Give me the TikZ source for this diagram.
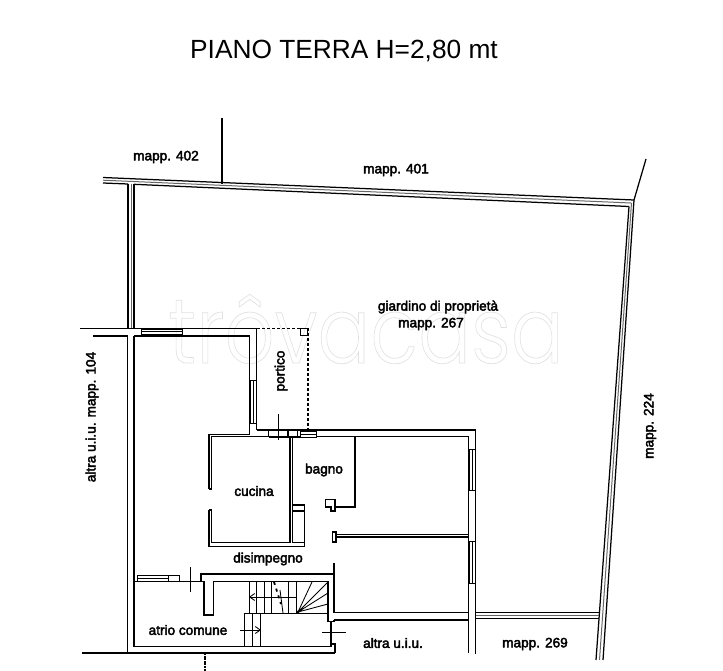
\documentclass[tikz,border=0pt]{standalone}
\usepackage{fontspec}
\setmainfont{Liberation Sans}
\newfontfamily\wmfont{Poppins Light}
\usetikzlibrary{arrows.meta}
\tikzset{
 wall/.style={line width=1.25pt,black,line cap=butt},
 thick wall/.style={line width=2pt,black},
 thin/.style={line width=0.85pt,black},
 gray wall/.style={line width=1pt,black!60},
 dash wall/.style={line width=1.1pt,black,dash pattern=on 3pt off 2pt},
 lab/.style={font=\fontsize{13.6}{15}\selectfont,inner sep=0pt,text=black,
   execute at begin node={\special{pdf:literal direct 2 Tr 0.4 w 0 0 0 RG}},
   execute at end node={\special{pdf:literal direct 0 Tr}}},
}
\begin{document}
\begin{tikzpicture}[x=1pt,y=-1pt]
\useasboundingbox (0,0) rectangle (723,671);
% watermark
\node (wm) at (366,329) [inner sep=0pt] {\special{pdf:literal direct 1 Tr 0.7 w 0.88 0.88 0.88 RG}\scalebox{0.85}[1]{\wmfont\fontsize{92}{92}\selectfont tr\^ovacasa}\special{pdf:literal direct 0 Tr}};
% title
\node (title) at (344,51) [inner sep=0pt] {\fontsize{26.3}{28}\selectfont PIANO TERRA H=2,80 mt};
% labels
\node[lab] (m402) at (166,157) {mapp. 402};
\node[lab] (m401) at (396,170) {mapp. 401};
\node[lab] (giard) at (438,307) {giardino di propriet\`a};
\node[lab] (m267) at (431,324) {mapp. 267};
\node[lab,rotate=90] (portico) at (281,371) {portico};
\node[lab,rotate=90] (altra104) at (92,417) {altra u.i.u. mapp. 104};
\node[lab,rotate=90] (m224) at (650,426) {mapp. 224};
\node[lab] (bagno) at (324,470) {bagno};
\node[lab] (cucina) at (254,491) {cucina};
\node[lab] (disimp) at (268,559) {disimpegno};
\node[lab] (atrio) at (188,630) {atrio comune};
\node[lab] (altrauiu) at (393,643) {altra u.i.u.};
\node[lab] (m269) at (535,644) {mapp. 269};
% boundary
\draw[wall] (103,177.5) -- (634,200);
\draw[wall] (103,183) -- (128,184) (134,184.3) -- (629,206.5);
\draw[gray wall] (103,180.2) -- (631,203);
\draw[wall] (634,200) -- (646,159);
\draw[wall] (222,118) -- (222,184);
\draw[wall] (634,200) -- (603,660);
\draw[wall] (629,206.5) -- (596,660);
\draw[gray wall] (631.5,203) -- (599.5,660);
\draw[wall] (128,184) -- (128,328.5) (134,184.3) -- (134,328.5);
\draw[gray wall] (131,184) -- (131,328.5);
% top of the house
\draw[wall] (80,328.5) -- (257,328.5);
\draw[dash wall] (257,328.5) -- (308,328.5) -- (308,430);
\draw[thin] (300.5,328.5) rectangle (307.5,335.5);
\draw[wall] (93,336) -- (127.5,336);
\draw[wall] (127.5,336) -- (127.5,653);
\draw[wall] (134,336) -- (134,646.5) -- (331,646.5);
\draw[wall] (134,336) -- (249.5,336) -- (249.5,423);
\draw[wall] (256.8,328.5) -- (256.8,430);
% windows
\draw[thin] (141,329) rectangle (182,334.5) (141,331.7) -- (182,331.7);
\draw[thin] (250,380) rectangle (256.5,423) (253.2,380) -- (253.2,423);
\draw[thin] (300,431) rectangle (316,437) (300,434) -- (316,434);
\draw[thin] (469,449) rectangle (475.5,490) (472.2,449) -- (472.2,490);
\draw[thin] (469,541) rectangle (475.5,583) (472.2,541) -- (472.2,583);
\draw[thin] (137,575) rectangle (179,581.7) (137,578.3) -- (168,578.3) (168,575) -- (168,581.7);
% cucina
\draw[wall] (249.5,423) -- (249.5,434.5);
\draw[wall] (209,489) -- (209,434.5) -- (249.5,434.5);
\draw[wall] (211.5,489) -- (211.5,436.8) -- (268.5,436.8) -- (268.5,430.5);
\draw[wall] (209,489) -- (211.5,489);
\draw[wall] (209,510) -- (209,546.7) -- (305,546.7) (211.5,510) -- (211.5,542.7) -- (290,542.7);
\draw[wall] (209,510) -- (211.5,510);
\draw[wall] (256.8,430) -- (288,430) (268.5,437) -- (288,437) -- (288,430);
\draw[wall] (290,437) -- (290,542.7) (292.7,437) -- (292.7,505) -- (304.5,505) -- (304.5,546.7);
\draw[wall] (292.7,511) -- (304.5,511) (292.7,505) -- (292.7,542.7) -- (304.5,542.7);
\draw[wall] (278.3,414) -- (278.3,440);
% top wall right part
\draw[wall] (288,430) -- (475.7,430) -- (475.7,654);
\draw[wall] (288,437) -- (300,437) (316,436.5) -- (468.3,436.5) -- (468.3,653);
\draw[wall] (297.5,430) -- (297.5,437);
% bagno partition
\draw[thick wall] (355,436.5) -- (355,506.5) -- (335,506.5);
\draw[wall] (335,506) -- (335,499.5) -- (325.5,499.5) -- (325.5,507) -- (331,507) -- (331,511) -- (335,511) -- (335,506);
% partition
\draw[wall] (336,534.6) -- (468,534.6) (336,537) -- (468,537);
\draw[wall] (336,532) -- (332.5,532) -- (332.5,542) -- (336,542) -- cycle;
% garden wall
\draw[wall] (476,612.7) -- (599,612.7) (476,618.7) -- (599,618.7);
\draw[gray wall] (476,615.7) -- (599,615.7);
% disimpegno walls
\draw[wall] (201,581.7) -- (201,574) -- (333,574);
\draw[thick wall] (334,563) -- (334,612.7);
\draw[wall] (334,612.7) -- (468,612.7);
\draw[wall] (334,620) -- (468,620);
\draw[wall] (134,581.7) -- (204,581.7) -- (204,615) -- (213.5,615) -- (213.5,581.7) -- (328,581.7) -- (328,621.5) -- (334,621.5) -- (334,620);
\draw[wall] (331,621.5) -- (331,646.5);
\draw[wall] (331,644) -- (335,644) -- (335,653);
\draw[thin] (322,632.7) -- (346,632.7);
\draw[wall] (190.7,567) -- (190.7,592);
% outer bottom
\draw[wall] (82,653) -- (335,653);
\draw[thick wall,dash pattern=on 2pt off 0.6pt] (205,653) -- (205,671);
% stairs
\foreach \sx in {249,256.7,264,271.7,288.3,296.7}
  \draw[thin] (\sx,581.7) -- (\sx,613.5);
\draw[wall] (243.5,613.5) -- (328,613.5);
\draw[thin] (298,612) -- (328,582) (298,612) -- (312,582) (298,612) -- (328,593) (298,612) -- (328,604);
\fill (298,612) circle (1.6pt);
\draw[line width=1.8pt,dash pattern=on 3pt off 4pt] (274,582) -- (281,604);
\draw[thin] (280,590) -- (283,613);
\draw[thin,-{Straight Barb[length=5pt,width=7pt]}] (296,597) -- (249,597);
\draw[thin] (244,613.5) rectangle (260.5,646.5) (252,613.5) -- (252,646.5);
\draw[thin,-{Straight Barb[length=5pt,width=7pt]}] (240,630) -- (261,630);
\end{tikzpicture}
\end{document}
